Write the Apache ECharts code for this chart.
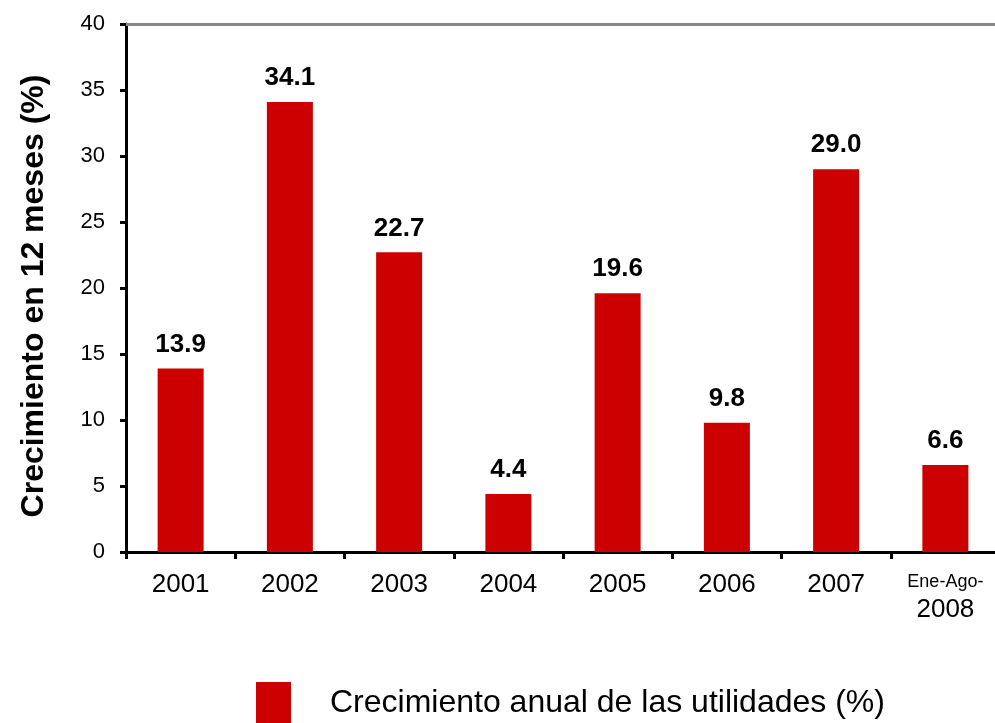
<!DOCTYPE html>
<html>
<head>
<meta charset="utf-8">
<script src="https://cdn.jsdelivr.net/npm/echarts@6/dist/echarts.min.js"></script>
<style>
  html, body { margin: 0; padding: 0; background: #fff; overflow: hidden; }
  /* plot runs a few px past the right edge of the picture */
  #main { width: 1002px; height: 723px; }
</style>
</head>
<body>
<div id="main"></div>
<script>
// data
var categorias = ['2001', '2002', '2003', '2004', '2005', '2006', '2007', 'Ene-Ago-\n2008'];
var crecimiento = [13.9, 34.1, 22.7, 4.4, 19.6, 9.8, 29.0, 6.6];
var nombreSerie = 'Crecimiento anual de las utilidades (%)';
var tituloEjeY = 'Crecimiento en 12 meses (%)';
var ejeY = { min: 0, max: 40, interval: 5 };

var fuente = '"Liberation Sans", Arial, sans-serif';

var chart = echarts.init(document.getElementById('main'));

chart.setOption({
    animation: false,
    backgroundColor: '#fff',
    textStyle: { fontFamily: fuente },
    grid: { left: 126, right: 2, top: 24, bottom: 171 },
    legend: {
        data: [nombreSerie],
        left: 256,
        top: 682,
        padding: 0,
        itemWidth: 35,
        itemHeight: 42,
        icon: 'rect',
        textStyle: { fontSize: 32, color: '#000', fontFamily: fuente, padding: [0, 0, 0, 34] }
    },
    xAxis: {
        type: 'category',
        data: categorias,
        axisLine: { lineStyle: { color: '#000', width: 3 } },
        axisTick: { show: true, length: 7, alignWithLabel: false, lineStyle: { color: '#000', width: 3 } },
        axisLabel: {
            color: '#000',
            fontSize: 26,
            margin: 20,
            interval: 0,
            formatter: function (v) {
                if (v.indexOf('\n') > -1) {
                    var partes = v.split('\n');
                    return '{a|' + partes[0] + '}\n{b|' + partes[1] + '}';
                }
                return v;
            },
            rich: {
                a: { fontSize: 18, lineHeight: 20, color: '#000', fontFamily: fuente },
                b: { fontSize: 26, lineHeight: 36, color: '#000', fontFamily: fuente }
            }
        }
    },
    yAxis: {
        type: 'value',
        min: ejeY.min,
        max: ejeY.max,
        interval: ejeY.interval,
        name: tituloEjeY,
        nameLocation: 'middle',
        nameGap: 76,
        nameTextStyle: { fontSize: 32, fontWeight: 'bold', color: '#000', fontFamily: fuente, padding: [0, 16, 0, 0] },
        axisLine: { show: true, lineStyle: { color: '#000', width: 3 } },
        axisTick: { show: true, length: 6, lineStyle: { color: '#000', width: 3 } },
        axisLabel: { color: '#000', fontSize: 22, margin: 21 },
        splitLine: { show: false }
    },
    series: [{
        name: nombreSerie,
        type: 'bar',
        data: crecimiento,
        barWidth: 46,
        itemStyle: { color: '#CC0000' },
        label: {
            show: true,
            position: 'top',
            distance: 11,
            fontSize: 26,
            fontWeight: 'bold',
            color: '#000',
            fontFamily: fuente,
            formatter: function (p) { return p.value.toFixed(1); }
        },
        markLine: {
            silent: true,
            symbol: 'none',
            label: { show: false },
            lineStyle: { color: '#888', width: 3, type: 'solid' },
            data: [{ yAxis: ejeY.max }]
        }
    }]
});
</script>
</body>
</html>
